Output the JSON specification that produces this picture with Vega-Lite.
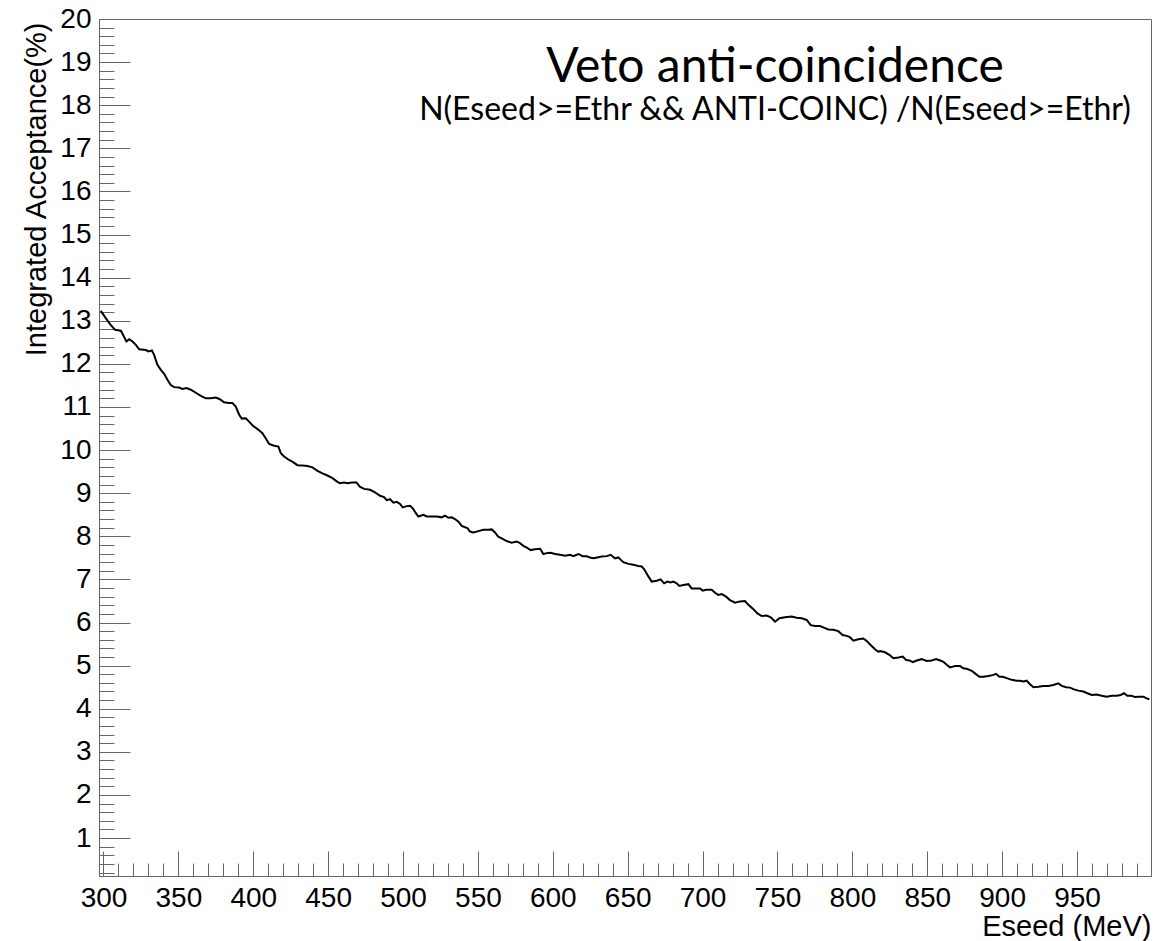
{
  "$schema": "https://vega.github.io/schema/vega-lite/v6.json",
  "width": 1052,
  "height": 857,
  "autosize": {"type": "none"},
  "padding": {"left": 99, "top": 19, "right": 21, "bottom": 65},
  "background": "white",
  "title": {
    "text": "Veto anti-coincidence",
    "subtitle": "N(Eseed>=Ethr && ANTI-COINC) /N(Eseed>=Ethr)",
    "anchor": "middle",
    "frame": "group",
    "dx": 150,
    "offset": -121,
    "font": "Lato",
    "fontSize": 48,
    "fontWeight": "normal",
    "color": "#000",
    "subtitleFont": "Lato",
    "subtitleFontSize": 32,
    "subtitleColor": "#000",
    "subtitlePadding": 3
  },
  "config": {
    "view": {"stroke": "#666", "strokeWidth": 1},
    "axis": {
      "labelFont": "Liberation Sans",
      "titleFont": "Liberation Sans",
      "labelFontSize": 28,
      "titleFontSize": 28,
      "labelColor": "#000",
      "titleColor": "#000",
      "titleFontWeight": "normal",
      "tickColor": "#666",
      "domainColor": "#666",
      "grid": false,
      "labelFlush": false,
      "labelOverlap": false
    }
  },
  "data": {
    "values": [
      {"E": 298.2, "A": 13.23}, {"E": 301.5, "A": 13.06}, {"E": 304.9, "A": 12.90}, {"E": 307.8, "A": 12.79},
      {"E": 311.6, "A": 12.77}, {"E": 313.1, "A": 12.67}, {"E": 315.3, "A": 12.52}, {"E": 317.1, "A": 12.57},
      {"E": 319.4, "A": 12.52}, {"E": 321.6, "A": 12.44}, {"E": 323.8, "A": 12.34}, {"E": 328.3, "A": 12.32},
      {"E": 330.0, "A": 12.29}, {"E": 332.3, "A": 12.31}, {"E": 333.8, "A": 12.21}, {"E": 336.0, "A": 11.98},
      {"E": 338.3, "A": 11.86}, {"E": 340.5, "A": 11.77}, {"E": 342.7, "A": 11.63}, {"E": 344.9, "A": 11.51},
      {"E": 347.2, "A": 11.46}, {"E": 350.5, "A": 11.45}, {"E": 352.7, "A": 11.42}, {"E": 355.4, "A": 11.44},
      {"E": 358.3, "A": 11.40}, {"E": 361.6, "A": 11.33}, {"E": 365.0, "A": 11.26}, {"E": 368.3, "A": 11.20},
      {"E": 371.6, "A": 11.20}, {"E": 375.0, "A": 11.22}, {"E": 377.7, "A": 11.18}, {"E": 380.5, "A": 11.11},
      {"E": 383.9, "A": 11.09}, {"E": 386.1, "A": 11.09}, {"E": 388.3, "A": 11.01}, {"E": 390.6, "A": 10.82},
      {"E": 392.3, "A": 10.73}, {"E": 395.0, "A": 10.74}, {"E": 397.2, "A": 10.66}, {"E": 399.9, "A": 10.56},
      {"E": 403.5, "A": 10.47}, {"E": 406.1, "A": 10.39}, {"E": 408.4, "A": 10.27}, {"E": 410.6, "A": 10.14},
      {"E": 413.9, "A": 10.10}, {"E": 416.8, "A": 10.08}, {"E": 418.4, "A": 9.93}, {"E": 420.6, "A": 9.85},
      {"E": 423.9, "A": 9.77}, {"E": 426.6, "A": 9.72}, {"E": 429.5, "A": 9.65}, {"E": 432.8, "A": 9.64},
      {"E": 436.2, "A": 9.63}, {"E": 439.5, "A": 9.60}, {"E": 442.9, "A": 9.52}, {"E": 446.2, "A": 9.46},
      {"E": 449.5, "A": 9.41}, {"E": 452.9, "A": 9.35}, {"E": 455.5, "A": 9.28}, {"E": 457.8, "A": 9.23},
      {"E": 460.7, "A": 9.25}, {"E": 462.9, "A": 9.23}, {"E": 465.8, "A": 9.25}, {"E": 468.9, "A": 9.25},
      {"E": 471.1, "A": 9.15}, {"E": 474.0, "A": 9.10}, {"E": 478.0, "A": 9.08}, {"E": 481.3, "A": 9.02},
      {"E": 484.7, "A": 8.94}, {"E": 487.3, "A": 8.91}, {"E": 489.1, "A": 8.84}, {"E": 491.3, "A": 8.86},
      {"E": 493.6, "A": 8.78}, {"E": 495.8, "A": 8.80}, {"E": 498.0, "A": 8.75}, {"E": 499.8, "A": 8.67},
      {"E": 502.5, "A": 8.70}, {"E": 504.7, "A": 8.71}, {"E": 506.5, "A": 8.65}, {"E": 508.7, "A": 8.53},
      {"E": 510.2, "A": 8.46}, {"E": 513.6, "A": 8.50}, {"E": 515.8, "A": 8.46}, {"E": 519.1, "A": 8.46},
      {"E": 522.5, "A": 8.46}, {"E": 525.8, "A": 8.44}, {"E": 528.0, "A": 8.48}, {"E": 530.3, "A": 8.43},
      {"E": 532.5, "A": 8.44}, {"E": 534.7, "A": 8.40}, {"E": 537.0, "A": 8.34}, {"E": 539.2, "A": 8.24},
      {"E": 541.4, "A": 8.21}, {"E": 543.0, "A": 8.19}, {"E": 544.7, "A": 8.11}, {"E": 547.0, "A": 8.09},
      {"E": 550.3, "A": 8.12}, {"E": 553.6, "A": 8.15}, {"E": 557.0, "A": 8.15}, {"E": 559.2, "A": 8.16},
      {"E": 561.4, "A": 8.09}, {"E": 563.6, "A": 7.99}, {"E": 565.9, "A": 7.95}, {"E": 569.2, "A": 7.89},
      {"E": 572.5, "A": 7.85}, {"E": 575.9, "A": 7.88}, {"E": 578.1, "A": 7.84}, {"E": 580.3, "A": 7.78},
      {"E": 582.6, "A": 7.74}, {"E": 585.2, "A": 7.68}, {"E": 588.1, "A": 7.70}, {"E": 591.5, "A": 7.71},
      {"E": 593.7, "A": 7.59}, {"E": 595.9, "A": 7.61}, {"E": 598.6, "A": 7.62}, {"E": 601.5, "A": 7.59},
      {"E": 604.8, "A": 7.57}, {"E": 608.2, "A": 7.55}, {"E": 611.5, "A": 7.57}, {"E": 613.7, "A": 7.54},
      {"E": 617.1, "A": 7.59}, {"E": 620.0, "A": 7.54}, {"E": 622.6, "A": 7.54}, {"E": 624.8, "A": 7.51},
      {"E": 627.1, "A": 7.49}, {"E": 629.7, "A": 7.51}, {"E": 632.6, "A": 7.53}, {"E": 636.0, "A": 7.54},
      {"E": 638.6, "A": 7.57}, {"E": 641.5, "A": 7.49}, {"E": 643.8, "A": 7.51}, {"E": 644.9, "A": 7.47},
      {"E": 647.1, "A": 7.40}, {"E": 650.5, "A": 7.36}, {"E": 653.8, "A": 7.34}, {"E": 657.1, "A": 7.31},
      {"E": 659.4, "A": 7.30}, {"E": 660.9, "A": 7.24}, {"E": 663.8, "A": 7.07}, {"E": 666.0, "A": 6.95},
      {"E": 669.4, "A": 6.97}, {"E": 672.0, "A": 7.00}, {"E": 674.3, "A": 6.91}, {"E": 676.5, "A": 6.95},
      {"E": 678.7, "A": 6.93}, {"E": 680.5, "A": 6.95}, {"E": 682.7, "A": 6.91}, {"E": 684.5, "A": 6.85},
      {"E": 687.2, "A": 6.87}, {"E": 690.5, "A": 6.89}, {"E": 692.7, "A": 6.79}, {"E": 696.1, "A": 6.79},
      {"E": 698.3, "A": 6.79}, {"E": 700.1, "A": 6.74}, {"E": 702.3, "A": 6.76}, {"E": 706.1, "A": 6.76},
      {"E": 708.3, "A": 6.69}, {"E": 710.5, "A": 6.64}, {"E": 712.8, "A": 6.66}, {"E": 715.7, "A": 6.60},
      {"E": 718.3, "A": 6.52}, {"E": 721.7, "A": 6.46}, {"E": 725.0, "A": 6.49}, {"E": 728.3, "A": 6.50},
      {"E": 730.6, "A": 6.41}, {"E": 733.9, "A": 6.31}, {"E": 736.6, "A": 6.21}, {"E": 739.5, "A": 6.15},
      {"E": 742.8, "A": 6.16}, {"E": 745.5, "A": 6.12}, {"E": 748.4, "A": 6.02}, {"E": 751.3, "A": 6.10},
      {"E": 755.0, "A": 6.12}, {"E": 759.5, "A": 6.14}, {"E": 762.8, "A": 6.11}, {"E": 766.2, "A": 6.10},
      {"E": 769.5, "A": 6.06}, {"E": 772.2, "A": 5.94}, {"E": 775.1, "A": 5.92}, {"E": 778.4, "A": 5.92},
      {"E": 781.8, "A": 5.87}, {"E": 784.0, "A": 5.84}, {"E": 787.3, "A": 5.83}, {"E": 790.6, "A": 5.80},
      {"E": 793.5, "A": 5.71}, {"E": 796.2, "A": 5.69}, {"E": 798.4, "A": 5.66}, {"E": 800.7, "A": 5.58},
      {"E": 804.0, "A": 5.61}, {"E": 807.3, "A": 5.63}, {"E": 809.6, "A": 5.57}, {"E": 812.2, "A": 5.48},
      {"E": 815.1, "A": 5.38}, {"E": 817.4, "A": 5.32}, {"E": 818.5, "A": 5.34}, {"E": 821.8, "A": 5.31},
      {"E": 824.7, "A": 5.25}, {"E": 827.4, "A": 5.17}, {"E": 830.7, "A": 5.19}, {"E": 833.6, "A": 5.21},
      {"E": 835.9, "A": 5.13}, {"E": 838.1, "A": 5.12}, {"E": 840.3, "A": 5.08}, {"E": 843.0, "A": 5.12},
      {"E": 846.3, "A": 5.15}, {"E": 849.7, "A": 5.11}, {"E": 853.0, "A": 5.12}, {"E": 855.9, "A": 5.15},
      {"E": 858.6, "A": 5.12}, {"E": 860.8, "A": 5.09}, {"E": 863.0, "A": 5.02}, {"E": 865.2, "A": 4.96},
      {"E": 868.6, "A": 4.99}, {"E": 871.9, "A": 4.99}, {"E": 874.1, "A": 4.94}, {"E": 876.8, "A": 4.92},
      {"E": 879.7, "A": 4.88}, {"E": 881.9, "A": 4.82}, {"E": 884.8, "A": 4.74}, {"E": 887.5, "A": 4.74},
      {"E": 890.8, "A": 4.76}, {"E": 893.7, "A": 4.78}, {"E": 895.9, "A": 4.81}, {"E": 898.2, "A": 4.74},
      {"E": 900.4, "A": 4.74}, {"E": 903.1, "A": 4.71}, {"E": 906.4, "A": 4.67}, {"E": 909.7, "A": 4.65},
      {"E": 912.0, "A": 4.65}, {"E": 914.2, "A": 4.63}, {"E": 916.4, "A": 4.65}, {"E": 918.6, "A": 4.57},
      {"E": 920.9, "A": 4.50}, {"E": 924.2, "A": 4.51}, {"E": 927.5, "A": 4.53}, {"E": 930.9, "A": 4.53},
      {"E": 934.2, "A": 4.55}, {"E": 937.5, "A": 4.59}, {"E": 939.8, "A": 4.53}, {"E": 942.7, "A": 4.50},
      {"E": 945.3, "A": 4.49}, {"E": 948.0, "A": 4.45}, {"E": 950.9, "A": 4.42}, {"E": 954.2, "A": 4.40},
      {"E": 956.9, "A": 4.36}, {"E": 959.8, "A": 4.32}, {"E": 963.1, "A": 4.33}, {"E": 966.5, "A": 4.30},
      {"E": 969.8, "A": 4.28}, {"E": 973.2, "A": 4.30}, {"E": 976.5, "A": 4.30}, {"E": 979.2, "A": 4.32},
      {"E": 981.4, "A": 4.36}, {"E": 983.6, "A": 4.30}, {"E": 986.5, "A": 4.30}, {"E": 988.7, "A": 4.27},
      {"E": 991.6, "A": 4.28}, {"E": 994.3, "A": 4.28}, {"E": 996.5, "A": 4.24}, {"E": 998.3, "A": 4.22}
    ]
  },
  "layer": [
    {
      "mark": {"type": "line", "color": "#000", "strokeWidth": 2},
      "encoding": {
        "x": {
          "field": "E", "type": "quantitative",
          "scale": {"domain": [297, 999.4], "nice": false, "zero": false},
          "axis": {
            "orient": "bottom",
            "values": [300, 350, 400, 450, 500, 550, 600, 650, 700, 750, 800, 850, 900, 950],
            "ticks": false, "domain": true, "labelPadding": 8,
            "title": "Eseed (MeV)", "titleAlign": "right", "titleBaseline": "alphabetic",
            "titleFontSize": 29, "titleX": 1052, "titleY": 59
          }
        },
        "y": {
          "field": "A", "type": "quantitative",
          "scale": {"domain": [0.12, 20], "nice": false, "zero": false},
          "axis": {
            "orient": "left",
            "values": [1, 2, 3, 4, 5, 6, 7, 8, 9, 10, 11, 12, 13, 14, 15, 16, 17, 18, 19, 20],
            "ticks": false, "domain": true, "labelPadding": 8,
            "title": "Integrated Acceptance(%)", "titleAngle": 270, "titleAlign": "right",
            "titleBaseline": "alphabetic", "titleFontSize": 29, "titleX": -54, "titleY": 3
          }
        }
      }
    },
    {
      "mark": {"type": "line", "opacity": 0},
      "encoding": {
        "x": {
          "field": "E", "type": "quantitative",
          "scale": {"domain": [297, 999.4], "nice": false, "zero": false},
          "axis": {
            "orient": "bottom",
            "values": [300, 350, 400, 450, 500, 550, 600, 650, 700, 750, 800, 850, 900, 950],
            "labels": false, "domain": false, "title": null, "tickSize": -25
          }
        },
        "y": {
          "field": "A", "type": "quantitative",
          "scale": {"domain": [0.12, 20], "nice": false, "zero": false},
          "axis": {
            "orient": "left",
            "values": [1, 2, 3, 4, 5, 6, 7, 8, 9, 10, 11, 12, 13, 14, 15, 16, 17, 18, 19, 20],
            "labels": false, "domain": false, "title": null, "tickSize": -31
          }
        }
      }
    },
    {
      "mark": {"type": "line", "opacity": 0},
      "encoding": {
        "x": {
          "field": "E", "type": "quantitative",
          "scale": {"domain": [297, 999.4], "nice": false, "zero": false},
          "axis": {
            "orient": "bottom",
            "values": [310, 320, 330, 340, 360, 370, 380, 390, 410, 420, 430, 440, 460, 470, 480, 490,
                       510, 520, 530, 540, 560, 570, 580, 590, 610, 620, 630, 640, 660, 670, 680, 690,
                       710, 720, 730, 740, 760, 770, 780, 790, 810, 820, 830, 840, 860, 870, 880, 890,
                       910, 920, 930, 940, 960, 970, 980, 990],
            "labels": false, "domain": false, "title": null, "tickSize": -13
          }
        },
        "y": {
          "field": "A", "type": "quantitative",
          "scale": {"domain": [0.12, 20], "nice": false, "zero": false},
          "axis": {
            "orient": "left",
            "values": [0.2, 0.4, 0.6, 0.8, 1.2, 1.4, 1.6, 1.8, 2.2, 2.4, 2.6, 2.8, 3.2, 3.4, 3.6, 3.8,
                       4.2, 4.4, 4.6, 4.8, 5.2, 5.4, 5.6, 5.8, 6.2, 6.4, 6.6, 6.8, 7.2, 7.4, 7.6, 7.8,
                       8.2, 8.4, 8.6, 8.8, 9.2, 9.4, 9.6, 9.8, 10.2, 10.4, 10.6, 10.8, 11.2, 11.4, 11.6, 11.8,
                       12.2, 12.4, 12.6, 12.8, 13.2, 13.4, 13.6, 13.8, 14.2, 14.4, 14.6, 14.8, 15.2, 15.4, 15.6, 15.8,
                       16.2, 16.4, 16.6, 16.8, 17.2, 17.4, 17.6, 17.8, 18.2, 18.4, 18.6, 18.8, 19.2, 19.4, 19.6, 19.8],
            "labels": false, "domain": false, "title": null, "tickSize": -15
          }
        }
      }
    }
  ],
  "resolve": {"axis": {"x": "independent", "y": "independent"}}
}
